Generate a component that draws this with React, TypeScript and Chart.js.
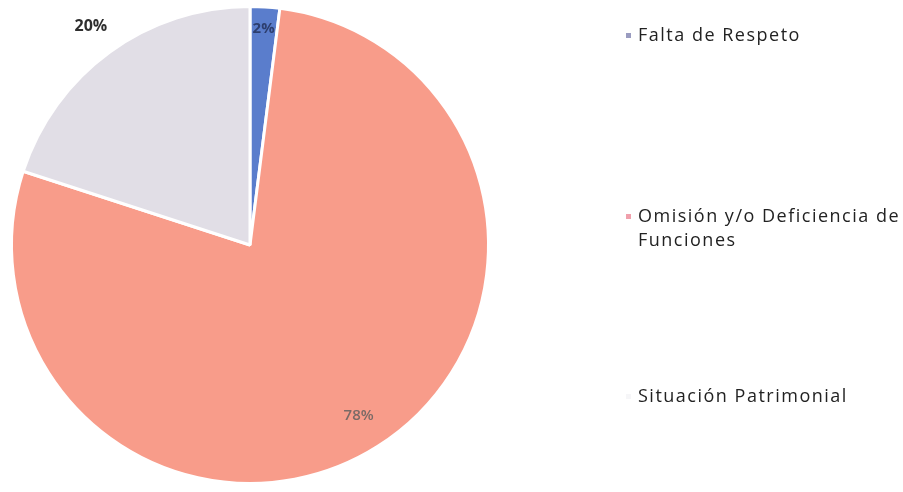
import React, { useEffect, useRef } from "react";
import { Chart, registerables } from "chart.js";

Chart.register(...registerables);

const categories = ["Falta de Respeto", "Omisión y/o Deficiencia de Funciones", "Situación Patrimonial"];
const legendLines = [["Falta de Respeto"], ["Omisión y/o Deficiencia de", "Funciones"], ["Situación Patrimonial"]];
const values = [2, 78, 20];
const percentLabels = ["2%", "78%", "20%"];
const sliceColors = ["#5a7dcc", "#f89c8a", "#e1dee6"];
const markerColors = ["#9a9cc0", "#f0a0ac", "#f6f6f8"];

const labelPlugin = {
  id: "customLabels",
  afterDraw(chart: any) {
    const ctx = chart.ctx;
    const meta = chart.getDatasetMeta(0);
    const radiusFactor = [0.91, 0.85, 1.135];
    const fonts = ["bold 15px 'Open Sans'", "600 15px 'Open Sans'", "bold 16px 'Open Sans'"];
    const colors = ["#2d3e6e", "#7a6a66", "#2e2e2e"];
    ctx.save();
    ctx.textAlign = "center";
    ctx.textBaseline = "middle";
    meta.data.forEach((arc: any, i: number) => {
      const p = arc.getProps(["x", "y", "startAngle", "endAngle", "outerRadius"], true);
      const mid = (p.startAngle + p.endAngle) / 2;
      const r = p.outerRadius * radiusFactor[i];
      ctx.font = fonts[i];
      ctx.fillStyle = colors[i];
      ctx.fillText(percentLabels[i], p.x + Math.cos(mid) * r, p.y + Math.sin(mid) * r);
    });
    // legend
    const legendY = [36, 217, 397];
    const textX = 638;
    ctx.textAlign = "left";
    ctx.font = "18px 'Open Sans'";
    (ctx as any).letterSpacing = "1.5px";
    legendLines.forEach((lines, i) => {
      ctx.fillStyle = markerColors[i];
      ctx.fillRect(626, legendY[i] - 3, 5, 5);
      ctx.fillStyle = "#222222";
      lines.forEach((t, j) => ctx.fillText(t, textX, legendY[i] + j * 24));
    });
    ctx.restore();
  },
};

export default function App() {
  const ref = useRef<HTMLCanvasElement>(null);
  useEffect(() => {
    document.body.style.margin = "0";
    const chart = new Chart(ref.current!, {
      type: "pie",
      data: {
        labels: categories,
        datasets: [
          {
            data: values,
            backgroundColor: sliceColors,
            borderColor: "#ffffff",
            borderWidth: 3,
          },
        ],
      },
      options: {
        responsive: false,
        animation: false,
        layout: { padding: { left: 10, top: 5, right: 413, bottom: 7 } },
        plugins: { legend: { display: false }, tooltip: { enabled: false } },
      },
      plugins: [labelPlugin],
    });
    return () => chart.destroy();
  }, []);
  return <canvas ref={ref} width={903} height={492} style={{ display: "block" }} />;
}
